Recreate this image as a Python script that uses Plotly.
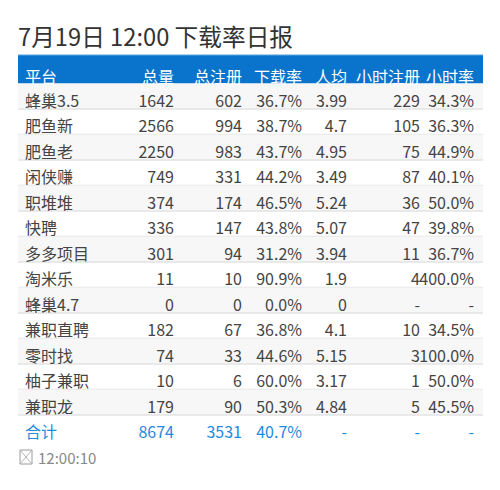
import plotly.graph_objects as go

platforms = ['蜂巢3.5', '肥鱼新', '肥鱼老', '闲侠赚', '职堆堆', '快聘', '多多项目', '淘米乐', '蜂巢4.7', '兼职直聘', '零时找', '柚子兼职', '兼职龙', '合计']
total = ['1642', '2566', '2250', '749', '374', '336', '301', '11', '0', '182', '74', '10', '179', '8674']
registered = ['602', '994', '983', '331', '174', '147', '94', '10', '0', '67', '33', '6', '90', '3531']
download_rate = ['36.7%', '38.7%', '43.7%', '44.2%', '46.5%', '43.8%', '31.2%', '90.9%', '0.0%', '36.8%', '44.6%', '60.0%', '50.3%', '40.7%']
per_person = ['3.99', '4.7', '4.95', '3.49', '5.24', '5.07', '3.94', '1.9', '0', '4.1', '5.15', '3.17', '4.84', '-']
hourly_reg = ['229', '105', '75', '87', '36', '47', '11', '4', '-', '10', '3', '1', '5', '-']
hourly_rate = ['34.3%', '36.3%', '44.9%', '40.1%', '50.0%', '39.8%', '36.7%', '400.0%', '-', '34.5%', '100.0%', '50.0%', '45.5%', '-']
headers = ['平台', '总量', '总注册', '下载率', '人均', '小时注册']
last_header = '小时率'

FONT = 'Noto Sans CJK SC'
W, H = 500, 490
X0, X1 = 18, 483
BOX_TOP, BOX_HEAD_BOTTOM, ROW_H = 55, 83.5, 25.5
TEXT_TOP, TEXT_HEAD_H = 62.5, 24


def px(x):
    return x / W


def py(y):
    return 1 - y / H


columns = [platforms, total, registered, download_rate, per_person, hourly_reg]
n = len(platforms)
row_color = ['#444444'] * (n - 1) + ['#1f8ae0']
none = 'rgba(0,0,0,0)'

fig = go.Figure()
fig.add_trace(go.Table(
    domain=dict(x=[px(X0 - 1), px(428)], y=[0, py(TEXT_TOP)]),
    columnwidth=[101, 64, 68, 60, 45, 73],
    header=dict(values=headers, height=TEXT_HEAD_H, align=['left'] + ['right'] * 5,
                fill_color=none, line_width=0,
                font=dict(family=FONT, size=16, color='white')),
    cells=dict(values=columns, height=ROW_H, align=['left'] + ['right'] * 5,
               fill_color=none, line_width=0,
               font=dict(family=FONT, size=16, color=[row_color] * 6)),
))
# the last column runs into its neighbour in the original, so it gets its own table
fig.add_trace(go.Table(
    domain=dict(x=[px(405), px(X1)], y=[0, py(TEXT_TOP)]),
    header=dict(values=[last_header], height=TEXT_HEAD_H, align='right',
                fill_color=none, line_width=0,
                font=dict(family=FONT, size=16, color='white')),
    cells=dict(values=[hourly_rate], height=ROW_H, align='right',
               fill_color=none, line_width=0,
               font=dict(family=FONT, size=16, color=[row_color])),
))

# header band, zebra rows and separators
fig.add_shape(type='rect', xref='paper', yref='paper', x0=px(X0), x1=px(X1), y0=py(BOX_HEAD_BOTTOM), y1=py(BOX_TOP),
              fillcolor='#0a74cc', line_width=0, layer='below')
fig.add_shape(type='line', xref='paper', yref='paper', x0=px(X0), x1=px(X1), y0=py(BOX_TOP), y1=py(BOX_TOP),
              line=dict(color='#5aa5e0', width=1), layer='below')
for i in range(n - 1):
    top = BOX_HEAD_BOTTOM + ROW_H * i
    if i % 2 == 0:
        fig.add_shape(type='rect', xref='paper', yref='paper', x0=px(X0), x1=px(X1), y0=py(top + ROW_H), y1=py(top),
                      fillcolor='#f7f7f7', line_width=0, layer='below')
    fig.add_shape(type='line', xref='paper', yref='paper', x0=px(X0), x1=px(X1), y0=py(top + ROW_H), y1=py(top + ROW_H),
                  line=dict(color='#e3e3e3', width=1.5), layer='below')

fig.add_annotation(text='7月19日 12:00 下载率日报', xref='paper', yref='paper', x=px(16), y=py(36),
                   xanchor='left', yanchor='middle', showarrow=False,
                   font=dict(family=FONT, size=23.7, color='#333333'))

# broken image placeholder in front of the time
fig.add_shape(type='rect', xref='paper', yref='paper', x0=px(20), x1=px(32), y0=py(464), y1=py(450),
              line=dict(color='#9a9a9a', width=1), fillcolor='white')
fig.add_shape(type='line', xref='paper', yref='paper', x0=px(20), x1=px(32), y0=py(464), y1=py(450),
              line=dict(color='#b5b5b5', width=1))
fig.add_shape(type='line', xref='paper', yref='paper', x0=px(20), x1=px(32), y0=py(450), y1=py(464),
              line=dict(color='#b5b5b5', width=1))
fig.add_annotation(text='12:00:10', xref='paper', yref='paper', x=px(36), y=py(457),
                   xanchor='left', yanchor='middle', showarrow=False,
                   font=dict(family=FONT, size=15, color='#888888'))

fig.update_layout(width=W, height=H, margin=dict(l=0, r=0, t=0, b=0), paper_bgcolor='white')
fig.write_html("out.html", post_script="document.body.style.margin='0';", config={'displayModeBar': False})
